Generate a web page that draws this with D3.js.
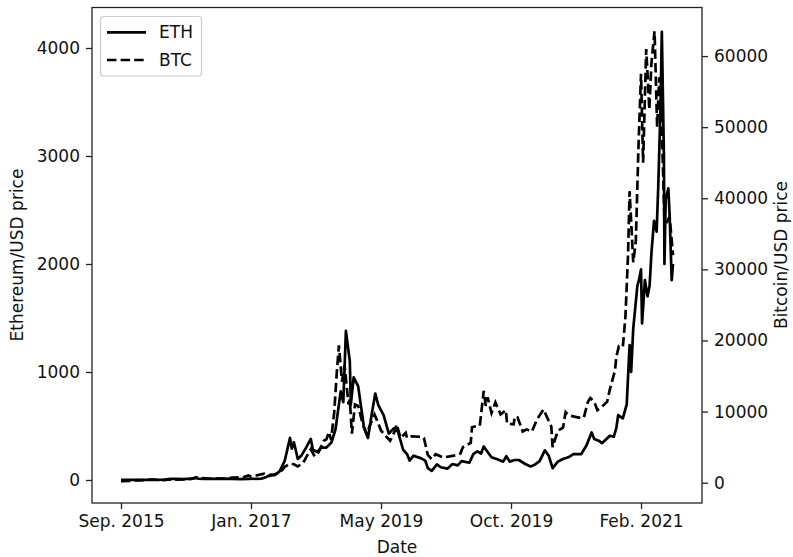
<!DOCTYPE html>
<html>
<head>
<meta charset="utf-8">
<script src="https://cdn.jsdelivr.net/npm/d3@7"></script>
<style>
  body { margin: 0; background: #fff; }
  svg text { font-family: "DejaVu Sans", sans-serif; fill: #111; }
</style>
</head>
<body>
<svg id="chart" width="793" height="557"></svg>
<script>
// days counted from Sep. 2015, prices
const ethDay = [0,20,50,65,100,140,170,190,210,240,270,288,295,320,340,390,460,490,540,560,575,590,610,630,650,657,665,680,695,712,730,738,755,770,790,810,825,845,855,865,880,884,895,912,935,950,965,978,990,1010,1030,1050,1065,1085,1100,1110,1125,1155,1170,1180,1195,1215,1230,1255,1275,1295,1310,1340,1355,1370,1385,1395,1410,1425,1450,1470,1482,1495,1515,1530,1555,1575,1590,1610,1630,1645,1660,1680,1700,1720,1740,1770,1790,1810,1820,1840,1850,1880,1895,1905,1912,1930,1945,1956,1962,1970,1986,1992,2000,2004,2015,2025,2033,2040,2050,2060,2066,2075,2080,2088,2090,2095,2105,2110,2118,2123];
const ethUsd = [1.3,0.9,0.45,1,0.85,1.4,4.5,10,11.6,7.5,12.6,20,13,11,10.5,13,8,9.5,12.7,28,50,45,80,180,390,290,350,195,230,300,380,280,260,300,300,350,470,820,720,1380,1100,700,950,870,480,390,620,800,690,600,430,480,450,280,240,180,225,200,180,110,85,145,118,105,148,135,175,160,240,265,245,310,260,210,190,170,220,170,185,185,148,125,140,175,275,225,110,170,195,210,240,240,320,440,380,360,340,410,400,480,600,570,700,1250,1000,1400,1800,1850,1950,1450,1850,1700,1800,2100,2400,2300,2700,3450,4150,3000,2000,2600,2700,2450,1850,2000];

const btcDay = [0,30,50,62,70,90,110,130,140,165,180,210,250,270,290,300,340,360,400,430,470,490,500,520,550,570,600,620,630,650,665,680,700,720,730,745,760,780,790,800,808,820,830,838,850,860,875,880,888,900,912,930,945,960,975,990,1000,1020,1035,1055,1060,1075,1095,1100,1115,1160,1165,1180,1195,1210,1240,1280,1305,1315,1345,1350,1360,1380,1395,1403,1410,1425,1440,1460,1480,1485,1510,1515,1525,1545,1560,1580,1600,1625,1645,1655,1660,1680,1700,1710,1720,1760,1780,1795,1805,1820,1832,1850,1870,1880,1900,1905,1915,1930,1940,1950,1956,1970,1980,1990,2000,2008,2020,2032,2040,2052,2062,2070,2080,2090,2100,2110,2123];
const btcUsd = [230,237,270,360,335,375,450,450,380,375,435,416,458,525,750,650,588,575,612,700,780,1030,830,1010,1260,935,1240,1770,2250,2650,2600,2300,2720,4100,4700,3700,4300,5900,6100,7150,6000,9900,15500,19300,14200,16500,11000,11700,6900,11000,10800,8200,6900,8300,9600,8300,7350,6500,5900,7400,8200,6300,7000,6300,6500,6450,6300,3900,3300,4000,3550,3800,4100,5000,5600,7800,7900,8000,12900,10800,12000,9800,11300,9600,10200,8300,8200,9300,9200,7200,7500,7200,8900,10300,8700,7900,5000,7300,7750,9900,9500,9150,9150,11300,11900,11400,10200,10700,11400,13100,15800,17700,19200,19100,23300,32000,41000,31000,34000,47000,57500,45000,61000,52500,59000,63500,50000,57000,50000,37000,36700,37400,32000];

const tickDays = [0, 500, 1000, 1500, 2000];
const tickLabels = ["Sep. 2015", "Jan. 2017", "May 2019", "Oct. 2019", "Feb. 2021"];
const ethTicks = [0, 1000, 2000, 3000, 4000];
const btcTicks = [0, 10000, 20000, 30000, 40000, 50000, 60000];

const L = 92, R = 702, T = 7.5, B = 503;
const svg = d3.select('#chart');

const x = d3.scaleLinear().domain([-111.5, 2234.5]).range([L, R]);
const yEth = d3.scaleLinear().domain([-213, 4375]).range([B, T]);
const yBtc = d3.scaleLinear().domain([-2855, 66830]).range([B, T]);

const ethLine = d3.line().x((d,i)=>x(ethDay[i])).y(d=>yEth(d));
const btcLine = d3.line().x((d,i)=>x(btcDay[i])).y(d=>yBtc(d));

svg.append('path')
    .attr('d', ethLine(ethUsd))
    .attr('fill','none')
    .attr('stroke','#000')
    .attr('stroke-width',2.7)
    .attr('stroke-linejoin','round');

svg.append('path')
    .attr('d', btcLine(btcUsd))
    .attr('fill','none')
    .attr('stroke','#000')
    .attr('stroke-width',2.7)
    .attr('stroke-dasharray','9.5,4.1');

// frame
svg.append('rect')
    .attr('x',L).attr('y',T)
    .attr('width',R-L).attr('height',B-T)
    .attr('fill','none')
    .attr('stroke','#222')
    .attr('stroke-width',1.3);

function styleAxis(g){
    g.select('.domain').remove();
    g.selectAll('.tick line').attr('stroke','#222').attr('stroke-width',1.3);
    g.selectAll('.tick text').style('font-size','17px');
}

const fmt = d3.format('d');

svg.append('g')
    .attr('transform',`translate(${L},0)`)
    .call(d3.axisLeft(yEth).tickValues(ethTicks).tickFormat(fmt).tickSize(6).tickPadding(6))
    .call(styleAxis);

svg.append('g')
    .attr('transform',`translate(${R},0)`)
    .call(d3.axisRight(yBtc).tickValues(btcTicks).tickFormat(fmt).tickSize(6).tickPadding(6))
    .call(styleAxis);

svg.append('g')
    .attr('transform',`translate(0,${B})`)
    .call(d3.axisBottom(x).tickValues(tickDays).tickFormat((d,i)=>tickLabels[i]).tickSize(6).tickPadding(6))
    .call(styleAxis);

// axis titles
svg.append('text')
    .attr('x',397).attr('y',553)
    .attr('text-anchor','middle')
    .style('font-size','17px')
    .text('Date');

svg.append('text')
    .attr('transform','translate(23,255) rotate(-90)')
    .attr('text-anchor','middle')
    .style('font-size','17px')
    .text('Ethereum/USD price');

svg.append('text')
    .attr('transform','translate(787,255) rotate(-90)')
    .attr('text-anchor','middle')
    .style('font-size','17px')
    .text('Bitcoin/USD price');

// legend
const lg = svg.append('g');
lg.append('rect')
    .attr('x',100.5).attr('y',16.5)
    .attr('width',101).attr('height',59.5)
    .attr('rx',3)
    .attr('fill','#fff').attr('fill-opacity',0.8)
    .attr('stroke','#ccc').attr('stroke-width',1.2);
const items = [{name:'ETH', dash:null, y:32.3},{name:'BTC', dash:'9.5,4.1', y:60}];
items.forEach(it=>{
    lg.append('line')
        .attr('x1',107).attr('x2',146)
        .attr('y1',it.y).attr('y2',it.y)
        .attr('stroke','#000').attr('stroke-width',2.7)
        .attr('stroke-dasharray',it.dash);
    lg.append('text')
        .attr('x',159).attr('y',it.y)
        .attr('dy','0.35em')
        .style('font-size','17px')
        .text(it.name);
});
</script>
</body>
</html>
